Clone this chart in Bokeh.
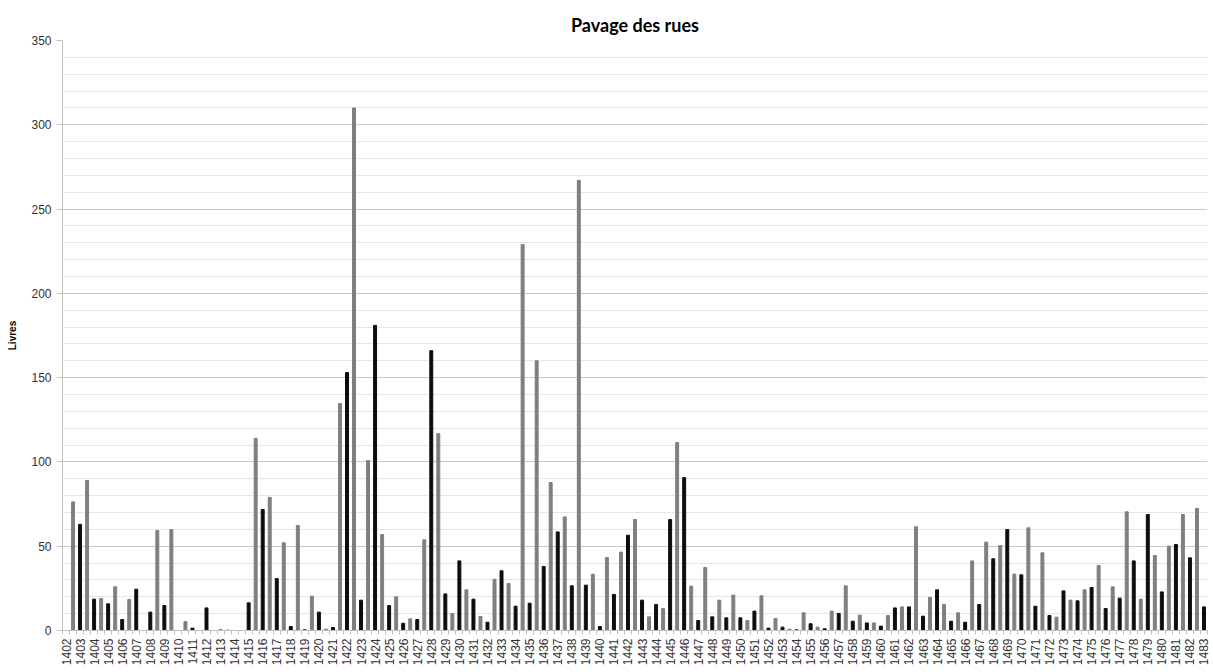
import math
from bokeh.plotting import figure
from bokeh.models import FixedTicker, Range1d
from bokeh.embed import file_html
from bokeh.resources import INLINE

# Years (category labels)
years = list(range(1402, 1484))

# First value of each year (black bars, labelled) 1402..1483
black = [0, 63, 18.6, 15.8, 6.5, 24.5, 10.9, 14.8, 0, 1.4,
         13.4, 0.3, 0, 16.4, 71.8, 30.8, 2.4, 0.4, 10.9, 1.8,
         153, 18, 181, 14.8, 4.3, 6.5, 166, 21.7, 41.3, 18.6,
         4.9, 35.4, 14.4, 16.2, 38, 58.5, 26.5, 26.9, 2.4, 21.4,
         56.5, 18, 15.4, 65.8, 90.7, 5.9, 8.1, 7.5, 7.5, 11.5,
         1.4, 2, 0.4, 4, 1, 10.1, 5.5, 4.5, 2.6, 13.4,
         14, 8.5, 24.1, 5.5, 4.9, 15.4, 42.5, 59.9, 33, 14.4,
         8.9, 23.5, 17.6, 25.5, 13, 19.2, 41.3, 68.8, 22.9, 51,
         43.1, 14]

# Second value of each year (grey bars) 1402..1482
grey = [76.3, 89, 19, 25.9, 18.4, 0, 59.3, 59.9, 5.3, 0,
        0, 0.3, 0, 114, 79, 52, 62.3, 20.4, 0.8, 134.6,
        310, 100.8, 56.9, 20, 6.9, 53.8, 116.8, 10.1, 24.1, 8.3,
        30.4, 27.9, 229, 160, 87.8, 67.4, 267, 33.4, 43.3, 46.5,
        65.8, 8.1, 13, 111.5, 26.3, 37.4, 18, 21, 5.9, 20.6,
        7.1, 0.8, 10.5, 2, 11.5, 26.5, 9.1, 4.5, 8.9, 14,
        61.5, 19.6, 15.4, 10.5, 41.3, 52.4, 50.4, 33.4, 60.9, 46.1,
        7.9, 18, 24.1, 38.6, 25.9, 70.4, 18.6, 44.5, 50, 68.8,
        72.4]

y_ticks = [0, 50, 100, 150, 200, 250, 300, 350]
y_minor = [v for v in range(0, 351, 10) if v % 50 != 0]

n_slots = len(black) + len(grey)
xb = [2 * i for i in range(len(black))]
xg = [2 * i + 1 for i in range(len(grey))]

p = figure(width=1210, height=668, output_backend="svg", toolbar_location=None,
           x_range=Range1d(-0.5, n_slots - 0.5), y_range=Range1d(0, 350),
           title="Pavage des rues", min_border_left=62, min_border_right=3,
           min_border_top=40, min_border_bottom=37)

p.vbar(x=xb, top=black, width=0.42, color="#0d0d0d")
p.vbar(x=xg, top=grey, width=0.42, color="#7f7f7f")

p.outline_line_color = None
p.background_fill_color = "white"
p.border_fill_color = "white"

p.title.align = "center"
p.title.text_font = "Lato"
p.title.text_font_size = "18px"
p.title.text_font_style = "bold"
p.title.text_color = "#000000"
p.title.offset = 0
p.title.standoff = 10

# Y axis
p.yaxis.ticker = FixedTicker(ticks=y_ticks, minor_ticks=y_minor)
p.yaxis.axis_label = "Livres"
p.yaxis.axis_label_text_font = "Liberation Sans"
p.yaxis.axis_label_text_font_size = "10px"
p.yaxis.axis_label_text_font_style = "bold"
p.yaxis.axis_label_text_color = "#000000"
p.yaxis.axis_label_standoff = 10
p.yaxis.major_label_text_font = "Liberation Sans"
p.yaxis.major_label_text_font_size = "12px"
p.yaxis.major_label_text_color = "#333333"
p.yaxis.axis_line_color = "#c0c0c0"
p.yaxis.major_tick_line_color = "#c0c0c0"
p.yaxis.major_tick_out = 6
p.yaxis.major_tick_in = 0
p.yaxis.minor_tick_line_color = None
p.yaxis.major_label_standoff = 5

p.ygrid.grid_line_color = "#c8c8c8"
p.ygrid.minor_grid_line_color = "#e6e6e6"
p.xgrid.grid_line_color = None

# X axis
p.xaxis.ticker = FixedTicker(ticks=xb, minor_ticks=[i - 0.5 for i in range(n_slots + 1)])
p.xaxis.major_label_overrides = {x: str(y) for x, y in zip(xb, years)}
p.xaxis.major_label_orientation = math.pi / 2
p.xaxis.major_label_text_font = "Liberation Sans"
p.xaxis.major_label_text_font_size = "12px"
p.xaxis.major_label_text_color = "#333333"
p.xaxis.axis_line_color = "#c0c0c0"
p.xaxis.major_tick_line_color = None
p.xaxis.major_tick_out = 0
p.xaxis.major_tick_in = 0
p.xaxis.minor_tick_line_color = "#c0c0c0"
p.xaxis.minor_tick_out = 4
p.xaxis.minor_tick_in = 0
p.xaxis.major_label_standoff = 4

open("out.html", "w").write(file_html(p, INLINE))
